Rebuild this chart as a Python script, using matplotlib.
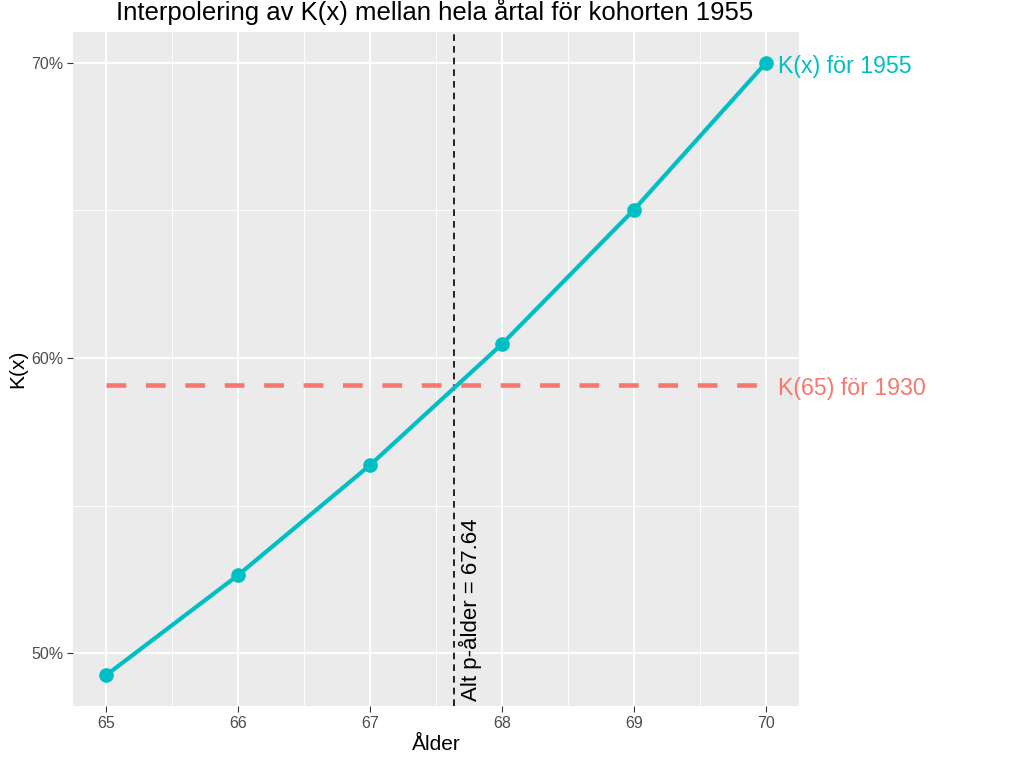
import matplotlib
matplotlib.use("Agg")
import matplotlib.pyplot as plt
from matplotlib.ticker import FixedLocator

plt.rcParams['font.family'] = ['Liberation Sans', 'DejaVu Sans']

ages = [65, 66, 67, 68, 69, 70]
kx_1955 = [0.4925, 0.5264, 0.5637, 0.6047, 0.6502, 0.7000]
k65_1930 = 0.5908
alt_age = 67.64

title = "Interpolering av K(x) mellan hela årtal för kohorten 1955"
label_1955 = "K(x) för 1955"
label_1930 = "K(65) för 1930"
alt_label = "Alt p-ålder = 67.64"
y_ticks = [0.50, 0.60, 0.70]
y_ticklabels = ["50%", "60%", "70%"]

cyan = "#00BFC4"
red = "#F8766D"

fig = plt.figure(figsize=(10.24, 7.59), dpi=100)
W, H = 1024, 759
ax = fig.add_axes([73 / W, 1 - 706 / H, (799 - 73) / W, (706 - 32) / H])
ax.set_facecolor("#EBEBEB")
for s in ax.spines.values():
    s.set_visible(False)

ax.set_xlim(64.75, 70.25)
ax.set_ylim(0.4821, 0.7104)
ax.set_xticks(ages)
ax.set_xticklabels([str(a) for a in ages])
ax.set_yticks(y_ticks)
ax.set_yticklabels(y_ticklabels)
ax.xaxis.set_minor_locator(FixedLocator([65.5, 66.5, 67.5, 68.5, 69.5]))
ax.yaxis.set_minor_locator(FixedLocator([0.55, 0.65]))
ax.grid(which="major", color="white", linewidth=1.3)
ax.grid(which="minor", color="white", linewidth=0.7)
ax.set_axisbelow(True)
ax.tick_params(which="major", length=4, color="#333333", labelsize=11.5, labelcolor="#4D4D4D", pad=3)
ax.tick_params(which="minor", length=0)

ax.plot([ages[0], ages[-1]], [k65_1930, k65_1930], color=red, linewidth=3.3,
        dashes=(4.3, 4.3), zorder=3)
ax.axvline(alt_age, color="black", linewidth=1.2, dashes=(4, 3), zorder=4)
ax.plot(ages, kx_1955, color=cyan, linewidth=3.0, zorder=5, solid_capstyle="round")
ax.plot(ages, kx_1955, "o", color=cyan, markersize=9.5, zorder=6, clip_on=False)

ax.text(70.09, kx_1955[-1] - 0.0012, label_1955, color=cyan, fontsize=16.7, va="center",
        ha="left", clip_on=False)
ax.text(70.09, k65_1930 - 0.0012, label_1930, color=red, fontsize=16.7, va="center",
        ha="left", clip_on=False)
ax.text(alt_age + 0.03, 0.4838, alt_label, rotation=90, fontsize=16, va="bottom",
        ha="left", color="black")

ax.set_xlabel("Ålder", fontsize=15, labelpad=3)
ax.set_ylabel("K(x)", fontsize=15, labelpad=3)
fig.text(0.5 * (118 + 752) / W, 1 - 12 / H, title, fontsize=18.5, ha="center", va="center")

fig.savefig("out.png", dpi=100)
